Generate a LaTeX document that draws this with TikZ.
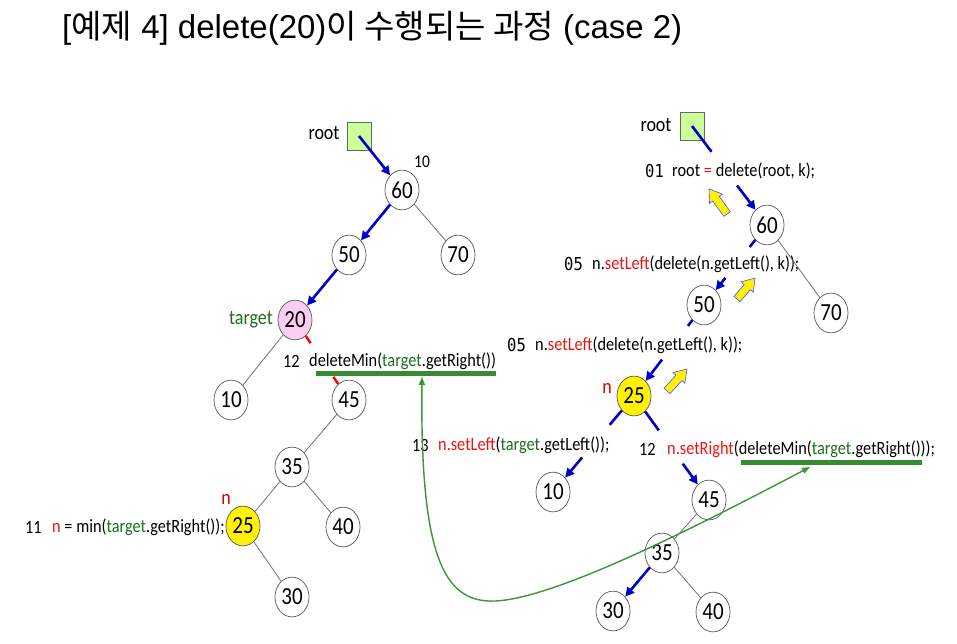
\documentclass[tikz,border=0pt]{standalone}
\usepackage{fontspec}
\setmainfont{Liberation Sans}
\newfontfamily\krfont{Noto Sans CJK KR}
\newfontfamily\calfont{Carlito}
\newfontfamily\monofnt{DejaVu Sans Mono}
\usetikzlibrary{calc,arrows.meta}
\definecolor{bblue}{RGB}{0,0,200}
\definecolor{cred}{RGB}{235,20,20}
\definecolor{cgreen}{RGB}{30,110,30}
\definecolor{bargreen}{RGB}{55,140,50}
\definecolor{curvegreen}{RGB}{60,150,50}
\definecolor{boxgreen}{RGB}{204,255,153}
\definecolor{pinkfill}{RGB}{250,205,242}
\newcommand{\kred}[1]{\textcolor{cred}{#1}}
\newcommand{\kgrn}[1]{\textcolor{cgreen}{#1}}
\newcommand{\yarrow}[2]{%
  \coordinate (ya) at (#1); \coordinate (yb) at (#2);
  \coordinate (yh) at ($(yb)!12pt!(ya)$);
  \filldraw[yarr] ($(ya)!4pt!90:(yb)$) -- ($(yh)!4pt!90:(yb)$) -- ($(yh)!8pt!90:(yb)$) -- (yb) -- ($(yh)!8pt!-90:(yb)$) -- ($(yh)!4pt!-90:(yb)$) -- ($(ya)!4pt!-90:(yb)$) -- cycle;}
\begin{document}
\begin{tikzpicture}[x=1pt,y=-1pt,
  tn/.style={circle, draw=black!65, line width=0.7pt, fill=white, minimum size=34pt, inner sep=0pt, yscale=1.17, font=\calfont\fontsize{21}{21}\selectfont},
  code/.style={anchor=west, inner sep=0pt, yscale=1.15, font=\calfont\fontsize{16.3}{18}\selectfont},
  mono/.style={anchor=west, inner sep=0pt, yscale=1.15, font=\monofnt\fontsize{15.5}{17}\selectfont},
  lbl/.style={inner sep=0pt, yscale=1.15, font=\calfont\fontsize{18}{20}\selectfont},
  rootbox/.style={draw=black!60, line width=0.7pt, fill=boxgreen, minimum width=24pt, minimum height=28pt, inner sep=0pt},
  bline/.style={draw=bblue, line width=2.6pt},
  barr/.style={bline, -{Triangle[length=9pt,width=9pt]}},
  gedge/.style={draw=black!55, line width=0.8pt},
  redge/.style={draw=red, line width=2.4pt},
  gbar/.style={draw=bargreen, line width=5pt},
  gcurve/.style={draw=curvegreen, line width=1.4pt, {Triangle[length=8pt,width=6pt]}-{Triangle[length=8pt,width=6pt]}},
  yarr/.style={fill=yellow, draw=blue!70, line width=0.6pt, line join=miter}
]
\useasboundingbox[fill=white] (0,0) rectangle (957,643);
% title
\node[anchor=west, inner sep=0pt, font=\fontsize{33}{38}\selectfont] (title) at (62,28) {[{\krfont 예제} 4] delete(20){\krfont 이 수행되는 과정} (case 2)};

% ---------------- left tree ----------------
\node[rootbox] (boxL) at (359,136) {};
\node[lbl] (rootL) at (324,133) {root};
\node[lbl, font=\calfont\fontsize{15.5}{18}\selectfont] (tenL) at (422,162) {10};
\node[tn] (n60) at (402,190) {60};
\node[tn] (n50) at (349,255) {50};
\node[tn] (n70) at (458,255) {70};
\node[tn, fill=pinkfill] (n20) at (295,320) {20};
\node[lbl, text=cgreen] (tgt) at (251,320) {target};
\node[tn] (n10) at (231,400) {10};
\node[tn] (n45) at (349,400) {45};
\node[tn] (n35) at (292,467) {35};
\node[tn, fill=yellow] (n25) at (243,526) {25};
\node[tn] (n40) at (343,527) {40};
\node[tn] (n30) at (292,597) {30};
\node[lbl, text=red!85!black] (nL) at (226,499) {n};

\draw[barr] (boxL.center) -- (n60);
\draw[barr] (n60) -- (n50);
\draw[barr] (n50) -- (n20);
\draw[gedge] (n60) -- (n70);
\draw[gedge] (n20) -- (n10);
\draw[gedge] (n45) -- (n35);
\draw[gedge] (n35) -- (n25);
\draw[gedge] (n35) -- (n40);
\draw[gedge] (n25) -- (n30);
\draw[redge] (n20) -- ($(n20.center)!0.29!(n45.center)$);
\draw[redge] ($(n20.center)!0.71!(n45.center)$) -- (n45);

\node[code] (l12) at (283,361) {12};
\node[code] (c12L) at (309,361) {deleteMin(\kgrn{target}.getRight())};
\draw[gbar] (316,373) -- (496,373);
\node[code] (l11) at (25,527) {11};
\node[code] (c11) at (52,527) {\kred{n} = min(\kgrn{target}.getRight());};

% ---------------- right tree ----------------
\node[rootbox] (boxR) at (692,126) {};
\node[lbl] (rootR) at (656,125) {root};
\node[tn] (r60) at (767,225) {60};
\node[tn] (r50) at (704,305) {50};
\node[tn] (r70) at (831,313) {70};
\node[tn, fill=yellow] (r25) at (634,396) {25};
\node[lbl, text=red!85!black] (nR) at (607,388) {n};
\node[tn] (r10) at (553,492) {10};
\node[tn] (r45) at (709,500) {45};
\node[tn] (r35) at (662,553) {35};
\node[tn] (r30) at (613,611) {30};
\node[tn] (r40) at (713,612) {40};

\node[mono] (l01) at (645,171) {01};
\node[code] (c01) at (672,171) {root \kred{=} delete(root, k);};
\node[mono] (l05a) at (564,264) {05};
\node[code] (c05a) at (592,264) {n.\kred{setLeft}(delete(n.getLeft(), k));};
\node[mono] (l05b) at (507,345) {05};
\node[code] (c05b) at (535,345) {n.\kred{setLeft}(delete(n.getLeft(), k));};
\node[code] (l13) at (412,445) {13};
\node[code] (c13) at (438,445) {\kred{n.setLeft}(\kgrn{target}.getLeft());};
\node[code] (l12R) at (639,449) {12};
\node[code] (c12R) at (667,449) {\kred{n.setRight}(deleteMin(\kgrn{target}.getRight()));};
\draw[gbar] (741,462) -- (922,462);

\draw[bline] (boxR.center) -- ($(boxR.center)!0.26!(r60.center)$);
\draw[barr] ($(boxR.center)!0.6!(r60.center)$) -- (r60);
\draw[bline] (r60) -- ($(r60.center)!0.275!(r50.center)$);
\draw[barr] ($(r60.center)!0.66!(r50.center)$) -- (r50);
\draw[bline] (r50) -- ($(r50.center)!0.23!(r25.center)$);
\draw[barr] ($(r50.center)!0.6!(r25.center)$) -- (r25);
\draw[bline] (r25) -- ($(r25.center)!0.3!(r10.center)$);
\draw[barr] ($(r25.center)!0.64!(r10.center)$) -- (r10);
\draw[bline] (r25) -- ($(r25.center)!0.33!(r45.center)$);
\draw[barr] ($(r25.center)!0.65!(r45.center)$) -- (r45);
\draw[gedge] (r60) -- (r70);
\draw[gedge] (r45) -- (r35);
\draw[gedge] (r35) -- (r40);
\draw[barr] (r35) -- (r30);

\yarrow{727,214}{709,189}
\yarrow{737,299}{755,278}
\yarrow{667,391}{687,369}

% green curve
\coordinate (gL) at (422,377);
\coordinate (gR) at (810,467);
\draw[gcurve] (gL) .. controls (420,560) and (445,603) .. (495,601) .. controls (555,598.6) and (696,527) .. (gR);
\end{tikzpicture}
\end{document}
